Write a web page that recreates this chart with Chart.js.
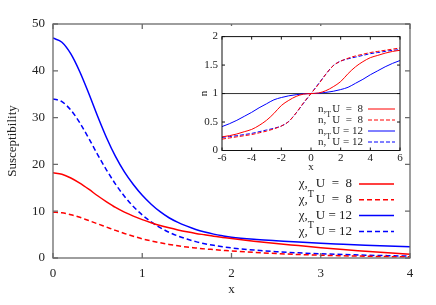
<!DOCTYPE html>
<html lang="en">
<head>
<meta charset="UTF-8">
<title>Susceptibility</title>
<script src="https://cdn.jsdelivr.net/npm/chart.js"></script>
<style>
    body { margin: 0; background: #fff; }
    .wrap { position: relative; width: 436px; height: 305px; }
    #inset-box {
        position: absolute; left: 198px; top: 26px;
        width: 206px; height: 145px;
        overflow: hidden; background: #fff;
    }
</style>
</head>
<body>
<div class="wrap">
    <canvas id="main-chart" width="436" height="305"></canvas>
    <div id="inset-box"><canvas id="inset-chart" width="206" height="152"></canvas></div>
</div>
<script>
// main panel: susceptibility vs x
const xMain = [0, 0.1, 0.2, 0.3, 0.4, 0.5, 0.6, 0.7, 0.8, 0.9, 1.0, 1.1, 1.2, 1.3, 1.4, 1.5,
    1.6, 1.7, 1.8, 1.9, 2.0, 2.25, 2.5, 2.75, 3.0, 3.25, 3.5, 3.75, 4.0];
const chiU8 = [18.2, 17.9, 17.1, 16.0, 14.7, 13.3, 12.0, 10.8, 9.8, 8.95, 8.2, 7.55, 6.95, 6.45, 6.0, 5.6,
    5.25, 4.95, 4.65, 4.4, 4.15, 3.6, 3.1, 2.65, 2.2, 1.8, 1.45, 1.1, 0.8];
const chiTU8 = [9.8, 9.65, 9.25, 8.7, 8.0, 7.3, 6.6, 5.9, 5.25, 4.65, 4.1, 3.65, 3.25, 2.9, 2.6, 2.35,
    2.15, 1.95, 1.8, 1.65, 1.5, 1.2, 0.95, 0.75, 0.6, 0.48, 0.38, 0.3, 0.25];
const chiU12 = [47.0, 46.1, 43.6, 39.8, 35.2, 30.3, 25.7, 21.7, 18.4, 15.7, 13.4, 11.5, 9.9, 8.6, 7.6, 6.8,
    6.1, 5.55, 5.1, 4.75, 4.45, 4.0, 3.7, 3.4, 3.15, 2.95, 2.75, 2.55, 2.4];
const chiTU12 = [34.0, 33.4, 31.6, 28.9, 25.6, 22.1, 18.8, 15.8, 13.2, 11.0, 9.2, 7.7, 6.5, 5.5, 4.7, 4.05,
    3.5, 3.05, 2.7, 2.4, 2.15, 1.7, 1.35, 1.1, 0.9, 0.75, 0.6, 0.5, 0.4];
const mainKeys = [['χ,', '', 'U  =  8'], ['χ,', 'T', 'U  =  8'], ['χ,', '', 'U = 12'], ['χ,', 'T', 'U = 12']];

// inset: n vs x
const xInset = [-6, -5.5, -5, -4.5, -4, -3.5, -3, -2.5, -2, -1.5, -1, -0.5, 0,
    0.5, 1, 1.5, 2, 2.5, 3, 3.5, 4, 4.5, 5, 5.5, 6];
const nU8 = [0.24, 0.26, 0.29, 0.33, 0.37, 0.44, 0.53, 0.65, 0.79, 0.88, 0.95, 0.99, 1.0,
    1.01, 1.05, 1.12, 1.21, 1.35, 1.47, 1.56, 1.63, 1.67, 1.71, 1.74, 1.76];
const nTU8 = [0.20, 0.22, 0.24, 0.26, 0.28, 0.31, 0.34, 0.38, 0.43, 0.51, 0.66, 0.84, 1.0,
    1.16, 1.34, 1.49, 1.57, 1.62, 1.66, 1.69, 1.72, 1.74, 1.76, 1.78, 1.80];
const nU12 = [0.42, 0.47, 0.53, 0.60, 0.67, 0.75, 0.82, 0.89, 0.93, 0.96, 0.98, 0.995, 1.0,
    1.005, 1.02, 1.04, 1.07, 1.11, 1.18, 1.25, 1.33, 1.40, 1.47, 1.53, 1.58];
const nTU12 = [0.23, 0.245, 0.26, 0.28, 0.30, 0.33, 0.36, 0.39, 0.43, 0.51, 0.66, 0.83, 1.0,
    1.17, 1.34, 1.49, 1.57, 1.61, 1.64, 1.67, 1.70, 1.72, 1.74, 1.76, 1.77];
const refX = [-6, 6];
const refY = [1, 1];
const insetKeys = [['n,', '', 'U  =  8'], ['n,', 'T', 'U  =  8'], ['n,', '', 'U = 12'], ['n,', 'T', 'U = 12']];

const RED = '#ff0000';
const BLUE = '#0000ff';
const SERIF = '"Liberation Serif", "Times New Roman", serif';

const pts = (xs, ys) => xs.map((x, i) => ({ x: x, y: ys[i] }));

// box + inward ticks on all four sides, gnuplot style
const framePlugin = {
    id: 'frame',
    afterDatasetsDraw(chart, args, o) {
        const { ctx, chartArea: a, scales } = chart;
        ctx.save();
        ctx.strokeStyle = o.color;
        ctx.lineWidth = o.width;
        ctx.beginPath();
        scales.x.ticks.forEach(t => {
            const px = scales.x.getPixelForValue(t.value);
            ctx.moveTo(px, a.bottom); ctx.lineTo(px, a.bottom - o.len);
            ctx.moveTo(px, a.top); ctx.lineTo(px, a.top + o.len);
        });
        scales.y.ticks.forEach(t => {
            const py = scales.y.getPixelForValue(t.value);
            ctx.moveTo(a.left, py); ctx.lineTo(a.left + o.len, py);
            ctx.moveTo(a.right, py); ctx.lineTo(a.right - o.len, py);
        });
        ctx.stroke();
        ctx.strokeRect(a.left, a.top, a.right - a.left, a.bottom - a.top);
        ctx.restore();
    }
};

// key with superscript T, text right-aligned before the line sample
const keyPlugin = {
    id: 'key',
    afterDraw(chart, args, o) {
        const ctx = chart.ctx;
        let row = 0;
        ctx.save();
        chart.data.datasets.forEach(ds => {
            if (!ds.key) return;
            const yy = o.top + row * o.step;
            row++;
            const [base, sup, rest] = ds.key;
            ctx.fillStyle = '#222';
            ctx.textBaseline = 'middle';
            ctx.textAlign = 'right';
            ctx.font = o.size + 'px ' + SERIF;
            ctx.fillText(rest, o.right, yy);
            const restX = o.right - ctx.measureText(rest).width;
            ctx.fillText(base, restX - o.gap, yy);
            if (sup) {
                ctx.textAlign = 'left';
                ctx.font = Math.round(o.size * 0.75) + 'px ' + SERIF;
                ctx.fillText(sup, restX - o.gap, yy - o.size * 0.45);
            }
            ctx.strokeStyle = ds.borderColor;
            ctx.lineWidth = ds.borderWidth;
            ctx.setLineDash(ds.borderDash || []);
            ctx.beginPath();
            ctx.moveTo(o.x1, yy);
            ctx.lineTo(o.x2, yy);
            ctx.stroke();
            ctx.setLineDash([]);
        });
        ctx.restore();
    }
};

const line = (data, color, dash, width, key) => ({
    data: data,
    borderColor: color,
    borderWidth: width,
    borderDash: dash,
    pointRadius: 0,
    fill: false,
    cubicInterpolationMode: 'monotone',
    key: key
});

const noGrid = { display: false, drawTicks: false };

new Chart(document.getElementById('main-chart'), {
    type: 'line',
    data: {
        datasets: [
            line(pts(xMain, chiU8), RED, [], 1.5, mainKeys[0]),
            line(pts(xMain, chiTU8), RED, [5, 3], 1.5, mainKeys[1]),
            line(pts(xMain, chiU12), BLUE, [], 1.5, mainKeys[2]),
            line(pts(xMain, chiTU12), BLUE, [5, 3], 1.5, mainKeys[3])
        ]
    },
    options: {
        responsive: false,
        animation: false,
        layout: { padding: { left: 0, right: 26, top: 24, bottom: 0 } },
        plugins: {
            legend: { display: false },
            tooltip: { enabled: false },
            frame: { color: '#6a6a6a', width: 1.3, len: 5 },
            key: { right: 352, gap: 8, x1: 359, x2: 394, top: 184, step: 15.8, size: 13 }
        },
        scales: {
            x: {
                type: 'linear', min: 0, max: 4,
                grid: noGrid,
                border: { display: false },
                ticks: { stepSize: 1, padding: 8, color: '#222', font: { family: SERIF, size: 13 } },
                title: { display: true, text: 'x', color: '#222', font: { family: SERIF, size: 13 }, padding: { top: 0, bottom: 8 } },
                afterFit: s => { s.height = 47; }
            },
            y: {
                type: 'linear', min: 0, max: 50,
                grid: noGrid,
                border: { display: false },
                ticks: { stepSize: 10, padding: 8, color: '#222', font: { family: SERIF, size: 13 } },
                title: { display: true, text: 'Susceptibility', color: '#222', font: { family: SERIF, size: 13 }, padding: { top: 5, bottom: 0 } },
                afterFit: s => { s.width = 53; }
            }
        }
    },
    plugins: [framePlugin, keyPlugin]
});

new Chart(document.getElementById('inset-chart'), {
    type: 'line',
    data: {
        datasets: [
            line(pts(xInset, nU8), RED, [], 1, insetKeys[0]),
            line(pts(xInset, nTU8), RED, [4, 2], 1, insetKeys[1]),
            line(pts(xInset, nU12), BLUE, [], 1, insetKeys[2]),
            line(pts(xInset, nTU12), BLUE, [4, 2], 1, insetKeys[3]),
            line(pts(refX, refY), '#333', [], 1, null)
        ]
    },
    options: {
        responsive: false,
        animation: false,
        layout: { padding: { left: 0, right: 4, top: 7, bottom: 0 } },
        plugins: {
            legend: { display: false },
            tooltip: { enabled: false },
            frame: { color: '#111', width: 1, len: 3 },
            key: { right: 165, gap: 6, x1: 170, x2: 197, top: 83, step: 11, size: 11 }
        },
        scales: {
            x: {
                type: 'linear', min: -6, max: 6,
                grid: noGrid,
                border: { display: false },
                ticks: { stepSize: 2, padding: 1, color: '#222', font: { family: SERIF, size: 11 } },
                title: { display: true, text: 'x', color: '#222', font: { family: SERIF, size: 11 }, padding: { top: 0, bottom: 4 } },
                afterFit: s => { s.height = 27.5; }
            },
            y: {
                type: 'linear', min: 0, max: 2,
                grid: noGrid,
                border: { display: false },
                ticks: { stepSize: 0.5, padding: 4, color: '#222', font: { family: SERIF, size: 11 }, callback: v => String(v) },
                title: { display: true, text: 'n', color: '#222', font: { family: SERIF, size: 11 }, padding: { top: 0, bottom: 0 } },
                afterFit: s => { s.width = 24; }
            }
        }
    },
    plugins: [framePlugin, keyPlugin]
});
</script>
</body>
</html>
